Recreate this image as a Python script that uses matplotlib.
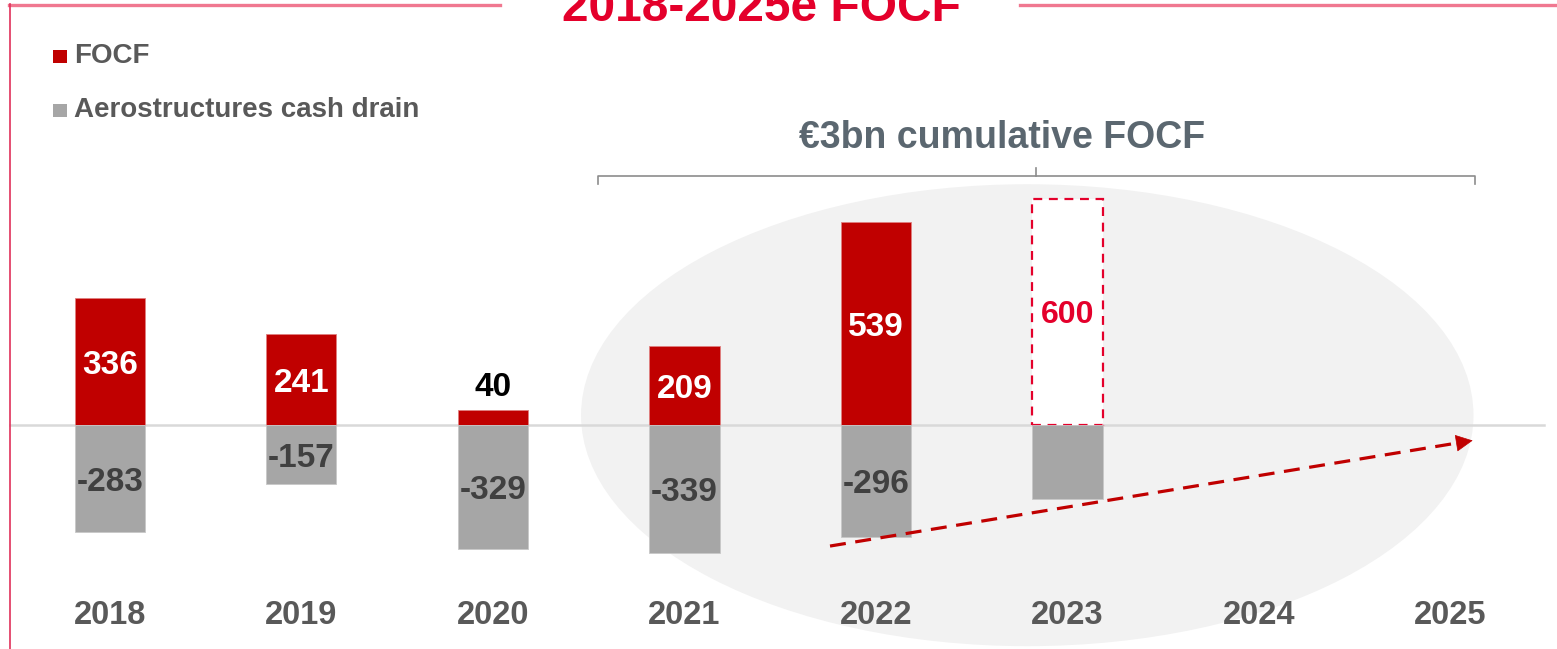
import matplotlib.pyplot as plt
from matplotlib.patches import Ellipse, Rectangle
from matplotlib.lines import Line2D

plt.rcParams['font.family'] = ['Liberation Sans', 'DejaVu Sans']
plt.rcParams['font.weight'] = 'bold'

#---------- DATA --------------------------------------------------------------
years = ['2018', '2019', '2020', '2021', '2022', '2023', '2024', '2025']
focf = [336, 241, 40, 209, 539]          # actual FOCF 2018-2022
focf_target = 600                        # 2023 guidance (dashed)
aero_drain = [-283, -157, -329, -339, -296, -195]
aero_labels = ['-283', '-157', '-329', '-339', '-296', '']
trend_start = (3.76, -321)               # dashed arrow (drain reduction)
trend_end = (7.13, -40)

#---------- STYLE -------------------------------------------------------------
red = '#C00000'
brand_red = '#E4002B'
grey = '#A6A6A6'
txt_grey = '#595959'
W, H = 1557, 649
bw = 0.366
dy = -10   # small nudge so labels sit like the original

fig = plt.figure(figsize=(W / 100, H / 100), dpi=100)
ax = fig.add_axes([0, 0, 1, 1])
ax.set_xlim(-0.574, 7.556)
ax.set_ylim(-594, 1127)
ax.axis('off')

# background ellipse
ax.add_patch(Ellipse((4.79, 26), 4.66, 1225, facecolor='#F2F2F2', edgecolor='none', zorder=0))

# zero line
ax.plot([-0.52, 7.49], [0, 0], color='#D9D9D9', lw=1.8, zorder=1)

x = list(range(len(years)))

# FOCF bars
ax.bar(x[:len(focf)], focf, width=bw, color=red, edgecolor='#E08080', linewidth=0.6, zorder=2)
ax.bar(x[len(focf)], focf_target, width=bw, facecolor='white', edgecolor=brand_red,
       linestyle=(0, (4, 3)), linewidth=1.6, zorder=2)

# aerostructures bars
ax.bar(x[:len(aero_drain)], aero_drain, width=bw, color=grey, edgecolor='#C8C8C8', linewidth=0.6, zorder=2)

# labels
for i, v in enumerate(focf):
    if v > 100:
        ax.text(i, v / 2 + dy, str(v), ha='center', va='center', color='white', fontsize=24, zorder=3)
    else:
        ax.text(i, v + 18, str(v), ha='center', va='bottom', color='black', fontsize=24, zorder=3)
ax.text(x[len(focf)], focf_target / 2 - 8, str(focf_target), ha='center', va='center',
        color=brand_red, fontsize=23, zorder=3)
for i, (v, lab) in enumerate(zip(aero_drain, aero_labels)):
    if lab:
        ax.text(i, v / 2 + dy, lab, ha='center', va='center', color='#404040', fontsize=24, zorder=3)

for i, y in enumerate(years):
    ax.text(i, -505, y, ha='center', va='center', color=txt_grey, fontsize=23.5, zorder=3)

# dashed trend arrow
ax.plot([trend_start[0], trend_end[0] - 0.08], [trend_start[1], trend_end[1] - 6.5],
        color=red, lw=2.3, linestyle=(0, (5, 3)), zorder=3)
ax.annotate('', xy=trend_end, xytext=(trend_end[0] - 0.1, trend_end[1] - 8.2),
            arrowprops=dict(arrowstyle='-|>', color=red, lw=0.5, mutation_scale=28), zorder=3)

# brace over 2021-2025
bx0, bx1, bxc, by = 2.548, 7.128, 4.836, 660
ax.plot([bx0, bx0, bx1, bx1], [639, by, by, 639], color='#8C8C8C', lw=1.2, zorder=3)
ax.plot([bxc, bxc], [by, 682], color='#8C8C8C', lw=1.2, zorder=3)
ax.text(4.66, 760, '€3bn cumulative FOCF', ha='center', va='center', color='#5B6770', fontsize=27)

# legend
fig.patches.append(Rectangle((53 / W, 1 - 63 / H), 14 / W, 13 / H, transform=fig.transFigure,
                             facecolor=red, edgecolor='none'))
fig.patches.append(Rectangle((53 / W, 1 - 117 / H), 14 / W, 13 / H, transform=fig.transFigure,
                             facecolor=grey, edgecolor='none'))
fig.text(74 / W, 1 - 56 / H, 'FOCF', ha='left', va='center', color=txt_grey, fontsize=20)
fig.text(74 / W, 1 - 110 / H, 'Aerostructures cash drain', ha='left', va='center', color=txt_grey, fontsize=20)

# slide frame and title
fig.lines.append(Line2D([9 / W, 500 / W], [1 - 4.5 / H, 1 - 4.5 / H], transform=fig.transFigure,
                        color='#F07890', lw=2.4))
fig.lines.append(Line2D([1020 / W, 1], [1 - 4.5 / H, 1 - 4.5 / H], transform=fig.transFigure,
                        color='#F07890', lw=2.4))
fig.lines.append(Line2D([9.5 / W, 9.5 / W], [0, 1 - 4 / H], transform=fig.transFigure,
                        color='#E0305A', lw=1.2))
fig.text(761 / W, 1 - 21 / H, '2018-2025e FOCF', ha='center', va='baseline', color=brand_red, fontsize=34.5)

fig.savefig('out.png', dpi=100)
